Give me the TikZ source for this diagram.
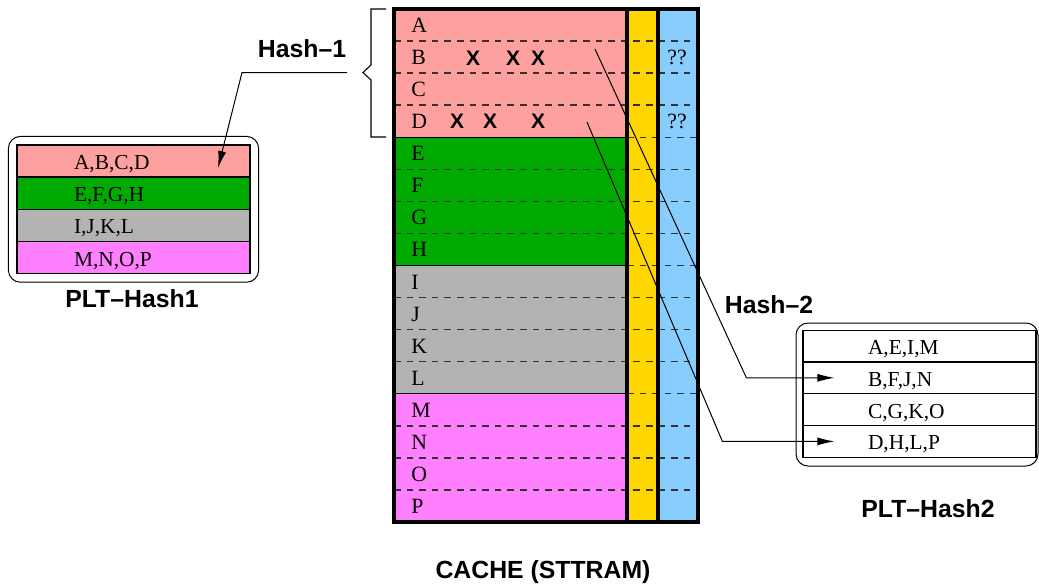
\documentclass[tikz,border=0pt]{standalone}
\usepackage{fontspec}
\setmainfont{Liberation Serif}
\setsansfont{Liberation Sans}
\usetikzlibrary{arrows.meta,positioning,calc,fit}
\definecolor{pinkA}{RGB}{255,160,160}
\definecolor{grnE}{RGB}{0,170,0}
\definecolor{grayI}{RGB}{179,179,179}
\definecolor{magM}{RGB}{255,128,255}
\definecolor{tagY}{RGB}{255,214,0}
\definecolor{tagB}{RGB}{135,206,255}
\definecolor{ink}{RGB}{0,0,0}
\tikzset{
  cell/.style={font=\fontsize{10.9}{12}\selectfont,inner sep=0pt,anchor=base west},
  lbl/.style={font=\fontsize{12.4}{14}\selectfont\sffamily\bfseries,inner sep=0pt,anchor=base},
  xmark/.style={font=\fontsize{10.5}{12}\selectfont\sffamily\bfseries,inner sep=0pt,anchor=base},
  sep/.style={dash pattern=on 3.3pt off 3pt,line width=0.7pt,ink!80},
  wall/.style={line width=1.6pt,ink},
  arr/.style={-{Latex[length=8.5pt,width=4pt]},line width=0.5pt,ink},
  pltrow/.style={draw=ink,line width=0.6pt,inner ysep=0pt,align=left,
    font=\fontsize{10.7}{12}\selectfont,text height=9pt,text depth=0.5pt},
  rowA/.style={pltrow,minimum height=16pt,inner xsep=28.5pt,text width=59.5pt},
  rowB/.style={pltrow,minimum height=15.9pt,inner xsep=32.5pt,text width=51.5pt},
  outer/.style={draw=ink,line width=0.5pt,rounded corners=6pt},
}
\begin{document}
\begin{tikzpicture}[x=0.5pt,y=-0.5pt]
  \useasboundingbox (0,0) rectangle (1039,585);
  % cache: colour bands and the two tag columns
  \fill[pinkA] (394,9) rectangle (627,137.25);
  \fill[grnE] (394,137.25) rectangle (627,265.5);
  \fill[grayI] (394,265.5) rectangle (627,393.75);
  \fill[magM] (394,393.75) rectangle (627,522);
  \fill[tagY] (627,9) rectangle (658,522);
  \fill[tagB] (658,9) rectangle (698,522);
  \foreach \k in {1,2,3,5,6,7,9,10,11,13,14,15} {
    \draw[sep] (394,{9+32.0625*\k}) -- (698,{9+32.0625*\k});
  }
  \foreach \k in {4,8,12} {
    \draw[line width=0.5pt,ink] (394,{9+32.0625*\k}) -- (627,{9+32.0625*\k});
    \draw[sep] (627,{9+32.0625*\k}) -- (698,{9+32.0625*\k});
  }
  \draw[wall] (394,9) rectangle (698,522);
  \draw[wall] (627,9) -- (627,522);
  \draw[wall] (658,9) -- (658,522);
  \foreach \l [count=\i from 0] in {A,...,P} {
    \node[cell] (c\l) at (411,{32.5+32.0625*\i}) {\l};
  }
  \foreach \x [count=\n] in {473,513,538} {
    \node[xmark] (xB\n) at (\x,65) {X};
  }
  \foreach \x [count=\n] in {457,490,538} {
    \node[xmark] (xD\n) at (\x,128.5) {X};
  }
  \node[cell,anchor=base] (qB) at (677,64.5) {??};
  \node[cell,anchor=base] (qD) at (677,128.5) {??};
  \node[lbl] (cache) at (543,578) {CACHE (STTRAM)};

  % set brace and first hash
  \coordinate (brtip) at (363,72.5);
  \draw[line width=0.55pt,ink] (386,9) -- (371,9) -- (371,65) -- (brtip)
    -- (371,80) -- (371,137) -- (386,137);
  \node[lbl] (hash1) at (302,57) {Hash--1};

  % PLT-Hash1
  \foreach \t/\c [count=\i] in {{A,B,C,D}/pinkA,{E,F,G,H}/grnE,{I,J,K,L}/grayI,{M,N,O,P}/magM} {
    \node[rowA,fill=\c] (hA\i) at (133.5,{161+32.2*(\i-1)}) {\t};
  }
  \node[outer,fit=(hA1)(hA4),inner sep=4pt] (pltA) {};
  \node[lbl] (lblA) at (132,307) {PLT--Hash1};

  % PLT-Hash2
  \foreach \t [count=\i] in {{A,E,I,M},{B,F,J,N},{C,G,K,O},{D,H,L,P}} {
    \node[rowB] (hB\i) at (919.5,{346+31.8*(\i-1)}) {\t};
  }
  \draw[outer] (796,323) rectangle (1038,466);
  \node[lbl] (lblB) at (928,517) {PLT--Hash2};
  \node[lbl] (hash2) at (769,313) {Hash--2};

  % connectors
  \coordinate (inA) at (218,168);
  \draw[arr] ($(brtip)+(-16,0)$) -- (242,72.5) -- (inA);
  \coordinate (srcB) at (595,49);
  \coordinate (srcD) at (587,122);
  \draw[arr] (srcB) -- ($(hB2.west)+(-56,0)$) -- ($(hB2.west)+(32,0)$);
  \draw[arr] (srcD) -- ($(hB4.west)+(-80,0)$) -- ($(hB4.west)+(32,0)$);
\end{tikzpicture}
\end{document}
